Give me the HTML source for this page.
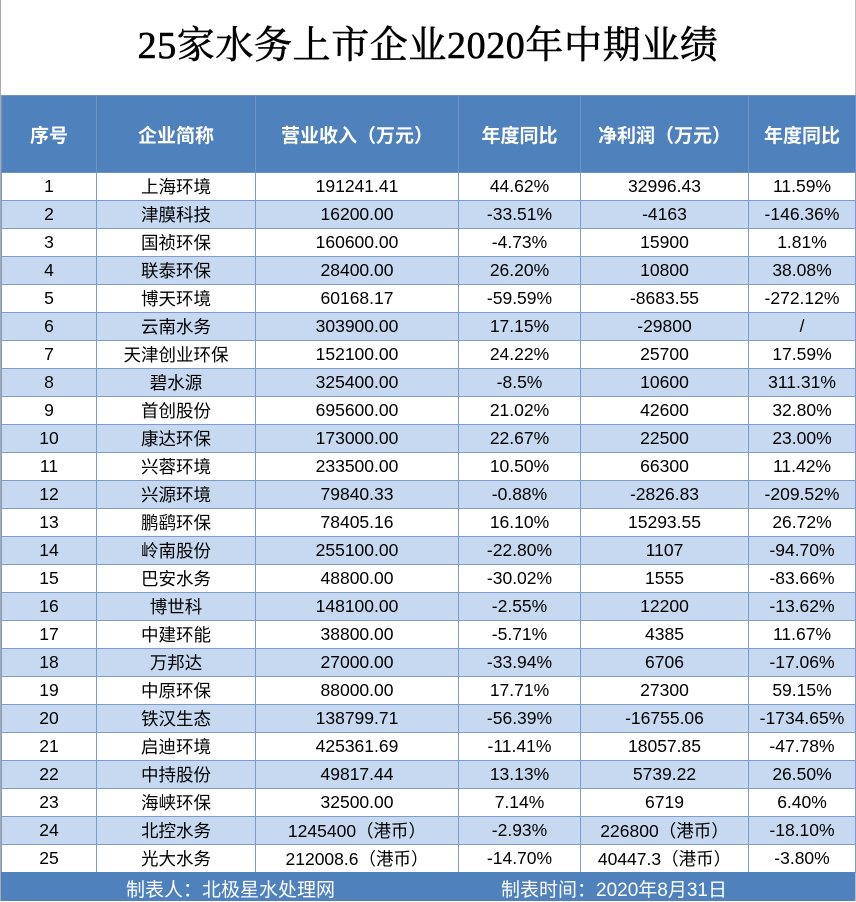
<!DOCTYPE html>
<html><head><meta charset="utf-8"><style>
*{margin:0;padding:0;box-sizing:border-box}
body{width:856px;height:901px;background:#fff;position:relative;overflow:hidden;font-family:"Liberation Sans","Noto Sans CJK SC",sans-serif}
.title{position:absolute;left:0;top:23px;width:856px;text-align:center;font-family:"Liberation Serif","Noto Serif CJK SC",serif;font-size:38px;font-weight:normal;line-height:46px;letter-spacing:0.6px;color:#000;-webkit-text-stroke:0.6px #000}
table{position:absolute;left:1px;top:95px;border-collapse:collapse;table-layout:fixed}
td,th{text-align:center;font-size:17.5px;color:#000;border:1px solid #7f9cc8;padding:0;white-space:nowrap;overflow:hidden}
th{background:#4f81bd;color:#fff;height:77px;font-size:19px;font-weight:bold;border-color:#6f95c8}
td{height:28px}
tr.e td{background:#c6d9f0}
.foot{position:absolute;left:1px;top:872px;width:854px;height:29px;background:#4f81bd;color:#fff;font-size:19px}
.foot span{position:absolute;top:3px}
.lb{position:absolute;left:0;top:0;width:1px;height:901px;background:#aaa}
.rb{position:absolute;right:0;top:0;width:1px;height:901px;background:#bbb}
</style></head><body>
<div class="lb"></div><div class="rb"></div>
<div class="title">25家水务上市企业2020年中期业绩</div>
<table>
<colgroup><col style="width:95px"><col style="width:159px"><col style="width:203px"><col style="width:122px"><col style="width:168px"><col style="width:107px"></colgroup>
<tr><th>序号</th><th>企业简称</th><th>营业收入（万元）</th><th>年度同比</th><th>净利润（万元）</th><th>年度同比</th></tr>
<tr><td>1</td><td>上海环境</td><td>191241.41</td><td>44.62%</td><td>32996.43</td><td>11.59%</td></tr>
<tr class="e"><td>2</td><td>津膜科技</td><td>16200.00</td><td>-33.51%</td><td>-4163</td><td>-146.36%</td></tr>
<tr><td>3</td><td>国祯环保</td><td>160600.00</td><td>-4.73%</td><td>15900</td><td>1.81%</td></tr>
<tr class="e"><td>4</td><td>联泰环保</td><td>28400.00</td><td>26.20%</td><td>10800</td><td>38.08%</td></tr>
<tr><td>5</td><td>博天环境</td><td>60168.17</td><td>-59.59%</td><td>-8683.55</td><td>-272.12%</td></tr>
<tr class="e"><td>6</td><td>云南水务</td><td>303900.00</td><td>17.15%</td><td>-29800</td><td>/</td></tr>
<tr><td>7</td><td>天津创业环保</td><td>152100.00</td><td>24.22%</td><td>25700</td><td>17.59%</td></tr>
<tr class="e"><td>8</td><td>碧水源</td><td>325400.00</td><td>-8.5%</td><td>10600</td><td>311.31%</td></tr>
<tr><td>9</td><td>首创股份</td><td>695600.00</td><td>21.02%</td><td>42600</td><td>32.80%</td></tr>
<tr class="e"><td>10</td><td>康达环保</td><td>173000.00</td><td>22.67%</td><td>22500</td><td>23.00%</td></tr>
<tr><td>11</td><td>兴蓉环境</td><td>233500.00</td><td>10.50%</td><td>66300</td><td>11.42%</td></tr>
<tr class="e"><td>12</td><td>兴源环境</td><td>79840.33</td><td>-0.88%</td><td>-2826.83</td><td>-209.52%</td></tr>
<tr><td>13</td><td>鹏鹞环保</td><td>78405.16</td><td>16.10%</td><td>15293.55</td><td>26.72%</td></tr>
<tr class="e"><td>14</td><td>岭南股份</td><td>255100.00</td><td>-22.80%</td><td>1107</td><td>-94.70%</td></tr>
<tr><td>15</td><td>巴安水务</td><td>48800.00</td><td>-30.02%</td><td>1555</td><td>-83.66%</td></tr>
<tr class="e"><td>16</td><td>博世科</td><td>148100.00</td><td>-2.55%</td><td>12200</td><td>-13.62%</td></tr>
<tr><td>17</td><td>中建环能</td><td>38800.00</td><td>-5.71%</td><td>4385</td><td>11.67%</td></tr>
<tr class="e"><td>18</td><td>万邦达</td><td>27000.00</td><td>-33.94%</td><td>6706</td><td>-17.06%</td></tr>
<tr><td>19</td><td>中原环保</td><td>88000.00</td><td>17.71%</td><td>27300</td><td>59.15%</td></tr>
<tr class="e"><td>20</td><td>铁汉生态</td><td>138799.71</td><td>-56.39%</td><td>-16755.06</td><td>-1734.65%</td></tr>
<tr><td>21</td><td>启迪环境</td><td>425361.69</td><td>-11.41%</td><td>18057.85</td><td>-47.78%</td></tr>
<tr class="e"><td>22</td><td>中持股份</td><td>49817.44</td><td>13.13%</td><td>5739.22</td><td>26.50%</td></tr>
<tr><td>23</td><td>海峡环保</td><td>32500.00</td><td>7.14%</td><td>6719</td><td>6.40%</td></tr>
<tr class="e"><td>24</td><td>北控水务</td><td>1245400（港币）</td><td>-2.93%</td><td>226800（港币）</td><td>-18.10%</td></tr>
<tr><td>25</td><td>光大水务</td><td>212008.6（港币）</td><td>-14.70%</td><td>40447.3（港币）</td><td>-3.80%</td></tr>
</table>
<div class="foot"><span style="left:125px">制表人：北极星水处理网</span><span style="left:500px">制表时间：2020年8月31日</span></div>
</body></html>
